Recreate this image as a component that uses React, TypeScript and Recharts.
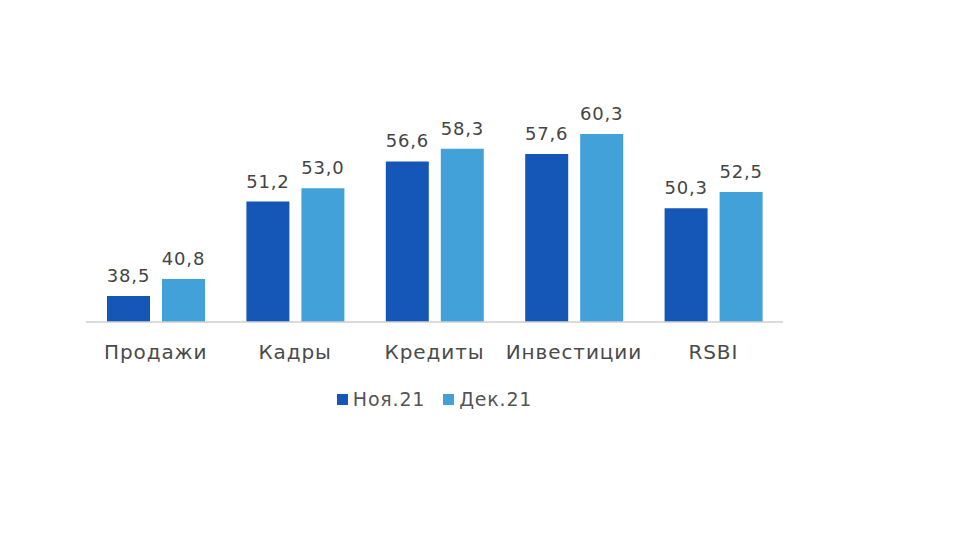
import React from "react";
import { BarChart, Bar, XAxis, YAxis, Legend, LabelList } from "recharts";

const categories = ["Продажи", "Кадры", "Кредиты", "Инвестиции", "RSBI"];
const nov21 = [38.5, 51.2, 56.6, 57.6, 50.3];
const dec21 = [40.8, 53.0, 58.3, 60.3, 52.5];
const seriesNames = ["Ноя.21", "Дек.21"];
const seriesColors = ["#1557b7", "#43a1da"];

const data = categories.map((name, i) => ({ name, nov: nov21[i], dec: dec21[i] }));

const fmt = (v: number) => v.toFixed(1).replace(".", ",");
const font = "'DejaVu Sans', sans-serif";

const LegendContent = () => (
  <div style={{ display: "flex", justifyContent: "center", gap: 18, fontFamily: font, fontSize: 19, letterSpacing: 0.8, color: "#555" }}>
    {seriesNames.map((n, i) => (
      <span key={n} style={{ display: "flex", alignItems: "center", gap: 5 }}>
        <span style={{ width: 11, height: 11, background: seriesColors[i], display: "inline-block" }} />
        {n}
      </span>
    ))}
  </div>
);

export default function App() {
  return (
    <div style={{ position: "fixed", left: 0, top: 0, width: 968, height: 544, background: "#fff" }}>
      <BarChart
        width={968}
        height={544}
        data={data}
        margin={{ top: 99, right: 185, bottom: 182, left: 86 }}
        barGap={12}
      >
        <XAxis
          dataKey="name"
          height={40}
          axisLine={{ stroke: "#cfcfcf", strokeWidth: 1.5 }}
          tickLine={false}
          tickMargin={17}
          tick={{ fill: "#4a4a4a", fontSize: 20, fontFamily: font, letterSpacing: 0.9 }}
        />
        <YAxis hide domain={[35, 65]} allowDataOverflow />
        <Legend verticalAlign="middle" align="center" wrapperStyle={{ top: 388 }} content={<LegendContent />} />
        <Bar dataKey="nov" name={seriesNames[0]} fill={seriesColors[0]} barSize={43} isAnimationActive={false}>
          <LabelList dataKey="nov" position="top" offset={14} formatter={fmt} fill="#454545" fontSize={18} fontFamily={font} letterSpacing={0.8} />
        </Bar>
        <Bar dataKey="dec" name={seriesNames[1]} fill={seriesColors[1]} barSize={43} isAnimationActive={false}>
          <LabelList dataKey="dec" position="top" offset={14} formatter={fmt} fill="#454545" fontSize={18} fontFamily={font} letterSpacing={0.8} />
        </Bar>
      </BarChart>
    </div>
  );
}
